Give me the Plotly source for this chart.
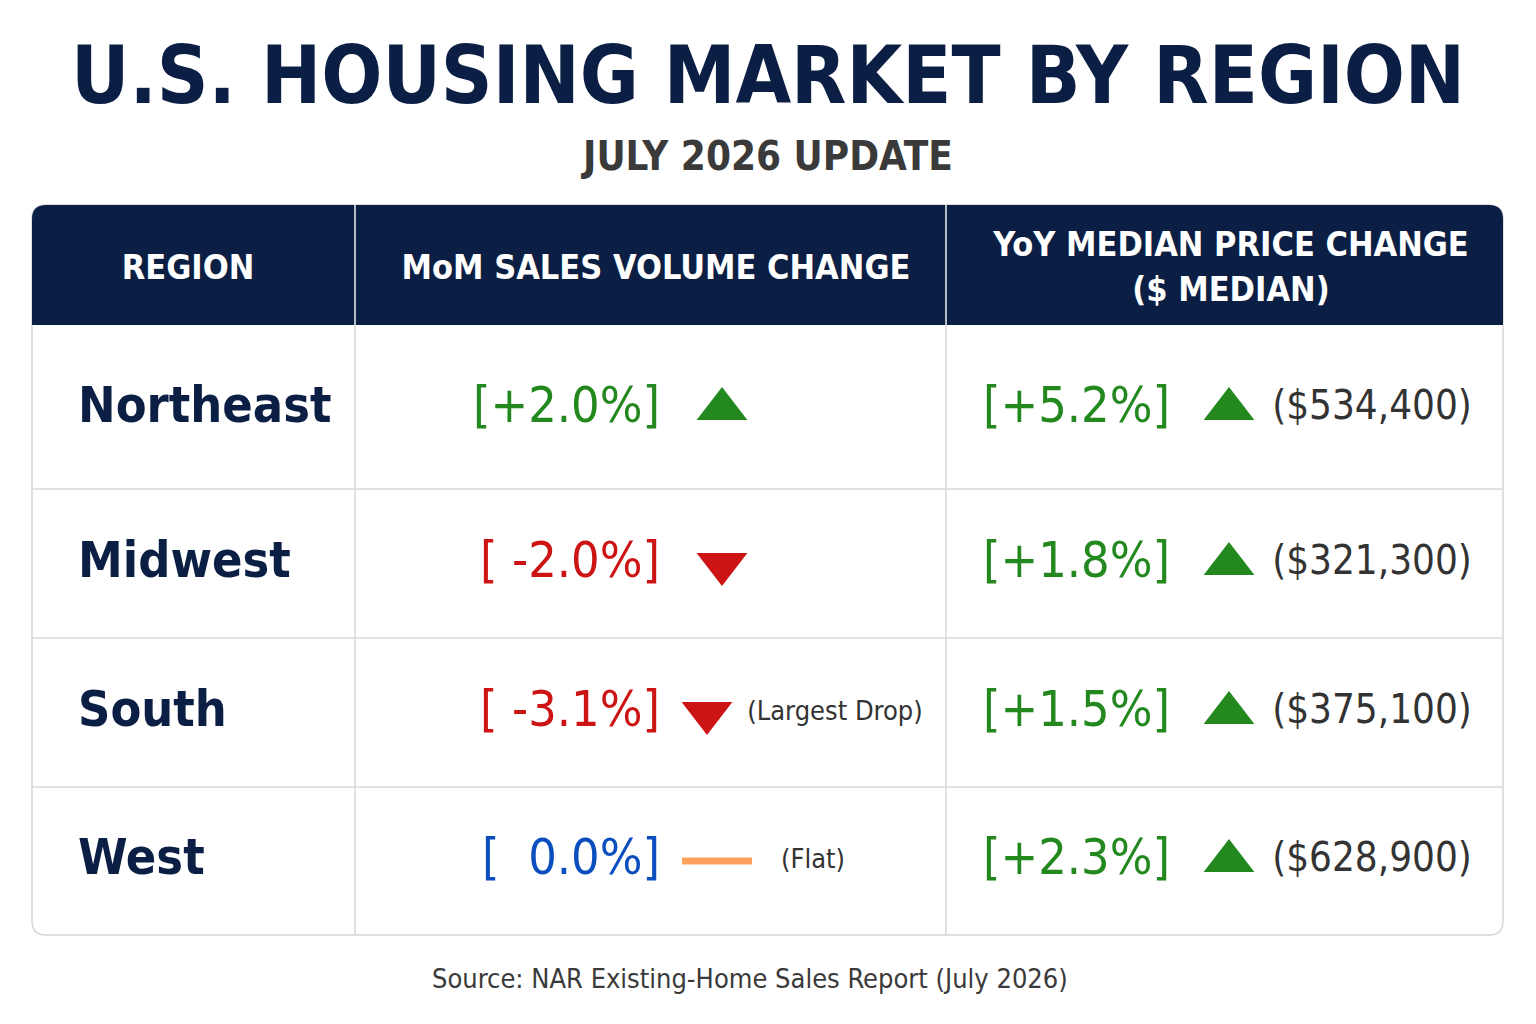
import plotly.graph_objects as go

regions = ["Northeast", "Midwest", "South", "West"]
mom_text = ["[+2.0%]", "[ -2.0%]", "[ -3.1%]", "[  0.0%]"]
mom_dir = ["up", "down", "down", "flat"]
mom_note = ["", "", "(Largest Drop)", "(Flat)"]
yoy_text = ["[+5.2%]", "[+1.8%]", "[+1.5%]", "[+2.3%]"]
yoy_dir = ["up", "up", "up", "up"]
prices = ["($534,400)", "($321,300)", "($375,100)", "($628,900)"]
headers = ["<b>REGION</b>", "<b>MoM SALES VOLUME CHANGE</b>", "<b>YoY MEDIAN PRICE CHANGE<br>($ MEDIAN)</b>"]

NAVY = "#0b1f44"
GREEN = "#23891f"
RED = "#cc1414"
BLUE = "#0b4fbf"
FONT = "DejaVu Sans Condensed, Roboto Condensed, Roboto, sans-serif"
color_of = {"up": GREEN, "down": RED, "flat": BLUE}
symbol_of = {"up": "triangle-up", "down": "triangle-down"}

row_y = [409, 564, 713, 861]
row_lines = [489, 638, 787]
col_lines = [355, 946]
L, R, T, HB, B = 32, 1503, 205, 325, 935

fig = go.Figure()
r = 14
shapes = [
    dict(type="path", path=f"M{L+r},{T} L{R-r},{T} Q{R},{T} {R},{T+r} L{R},{B-r} Q{R},{B} {R-r},{B} "
         f"L{L+r},{B} Q{L},{B} {L},{B-r} L{L},{T+r} Q{L},{T} {L+r},{T} Z",
         fillcolor="white", line=dict(color="#d6d6d6", width=1.5), layer="below"),
    dict(type="path", path=f"M{L+r},{T} L{R-r},{T} Q{R},{T} {R},{T+r} L{R},{HB} L{L},{HB} L{L},{T+r} Q{L},{T} {L+r},{T} Z",
         fillcolor=NAVY, line=dict(width=0), layer="below"),
]
for y in row_lines:
    shapes.append(dict(type="line", x0=L, x1=R, y0=y, y1=y, line=dict(color="#d9d9d9", width=1.5)))
for x in col_lines:
    shapes.append(dict(type="line", x0=x, x1=x, y0=T, y1=B, line=dict(color="#d9d9d9", width=1.5)))
    shapes.append(dict(type="line", x0=x, x1=x, y0=T, y1=HB, line=dict(color="#c8cfdc", width=1)))

def bold(lst):
    return [f"<b>{s}</b>" if s else "" for s in lst]

fig.add_trace(go.Scatter(x=[188, 656, 1231], y=[270, 270, 270], mode="text", text=headers,
                         textfont=dict(family=FONT, size=34, color="white"), hoverinfo="skip"))
fig.add_trace(go.Scatter(x=[78] * 4, y=row_y, mode="text", text=bold(regions), textposition="middle right",
                         textfont=dict(family=FONT, size=50, color=NAVY), hoverinfo="skip"))
fig.add_trace(go.Scatter(x=[660] * 4, y=row_y, mode="text", text=mom_text, textposition="middle left",
                         textfont=dict(family=FONT, size=50, color=[color_of[d] for d in mom_dir]),
                         hoverinfo="skip"))
tri_idx = [i for i, d in enumerate(mom_dir) if d != "flat"]
flat_idx = [i for i, d in enumerate(mom_dir) if d == "flat"]
mom_x = [722, 722, 707, 717]
fig.add_trace(go.Scatter(x=[mom_x[i] for i in tri_idx], y=[row_y[i] for i in tri_idx], mode="markers",
                         hoverinfo="skip", opacity=1,
                         marker=dict(symbol=[symbol_of[mom_dir[i]] for i in tri_idx], size=44, opacity=1,
                                     color=[color_of[mom_dir[i]] for i in tri_idx], line=dict(width=0))))
fig.add_trace(go.Scatter(x=[mom_x[i] for i in flat_idx], y=[row_y[i] for i in flat_idx], mode="markers",
                         hoverinfo="skip", opacity=1,
                         marker=dict(symbol="line-ew-open", size=50, opacity=1,
                                     line=dict(width=7, color=BLUE))))
fig.add_trace(go.Scatter(x=[835, 835, 835, 813], y=row_y, mode="text", text=mom_note,
                         textfont=dict(family=FONT, size=27, color="#333333"), hoverinfo="skip"))
fig.add_trace(go.Scatter(x=[1170] * 4, y=row_y, mode="text", text=yoy_text, textposition="middle left",
                         textfont=dict(family=FONT, size=50, color=GREEN), hoverinfo="skip"))
fig.add_trace(go.Scatter(x=[1229] * 4, y=row_y, mode="markers", hoverinfo="skip",
                         marker=dict(symbol=[symbol_of[d] for d in yoy_dir], size=44, color=GREEN)))
fig.add_trace(go.Scatter(x=[1372] * 4, y=row_y, mode="text", text=prices,
                         textfont=dict(family=FONT, size=40, color="#333333"), hoverinfo="skip"))

annotations = [
    dict(x=768, y=75, text="<b>U.S. HOUSING MARKET BY REGION</b>", showarrow=False,
         font=dict(family=FONT, size=80, color=NAVY)),
    dict(x=766, y=156, text="<b>JULY 2026 UPDATE</b>", showarrow=False,
         font=dict(family=FONT, size=40, color="#3a3a3a")),
    dict(x=750, y=978, text="Source: NAR Existing-Home Sales Report (July 2026)", showarrow=False,
         font=dict(family=FONT, size=27, color="#3a3a3a")),
]
for a in annotations:
    a.update(xref="x", yref="y")

fig.update_layout(
    width=1536, height=1024, margin=dict(l=0, r=0, t=0, b=0),
    paper_bgcolor="white", plot_bgcolor="white", showlegend=False,
    xaxis=dict(range=[8, 1544], visible=False, fixedrange=True),
    yaxis=dict(range=[1032, 8], visible=False, fixedrange=True),
    shapes=shapes, annotations=annotations,
)
fig.write_html("out.html")
